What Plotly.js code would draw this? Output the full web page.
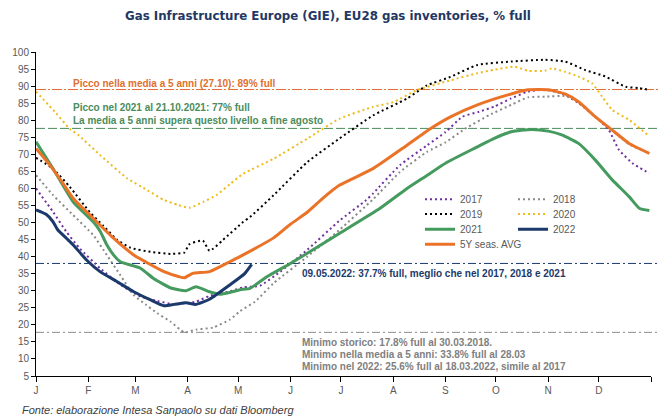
<!DOCTYPE html>
<html>
<head>
<meta charset="utf-8">
<script src="https://cdn.plot.ly/plotly-3.0.1.min.js"></script>
<style>html,body{margin:0;padding:0;background:#fff;}#chart{width:672px;height:416px;}</style>
</head>
<body>
<div id="chart"></div>
<script>
// Day of year (0 = 1 Jan) and % full
var monthTicks = [0,31,59,90,120,151,181,212,243,273,304,334,365];
var monthLabels = ['J','F','M','A','M','J','J','A','S','O','N','D',''];

var days2017 = [0,10,18,26,38,50,62,72,82,89,95,103,115,123,133,145,161,180,196,200,216,232,243,253,263,272,282,292,302,312,322,332,340,346,354,364];
var vals2017 = [60,53.2,47.3,42.4,36.6,31.8,28.3,27,26,26.4,26.8,28.5,29.8,31,31.5,35.6,42,50.5,56.6,58.5,66.8,72.6,76.5,81,82.5,84,86.4,88.4,88.9,87.9,85,81,77.1,71.3,67.4,64.4];

var days2018 = [0,10,22,34,42,50,58,65,72,80,88,95,105,115,121,130,141,161,180,200,216,232,243,255,269,282,292,302,314,320,332,342,352,364];
var vals2018 = [63.9,58.1,52.2,46.3,40.5,34.6,28.7,26,23.4,20.9,17.8,18.6,19.2,21.5,24,26.8,32.2,40,47.8,56.8,64.8,70.7,73.5,77.6,81.5,84.5,86.7,86.9,87.1,85.9,81,77,73,70.3];

var days2019 = [0,10,20,32,40,48,56,68,80,88,91,99,103,111,123,127,141,161,180,200,220,232,246,262,282,302,314,326,338,350,358,364];
var vals2019 = [69,65.8,60.5,53,49,45,42.6,41.4,40.8,41.2,43.6,44.7,41.7,44.9,50.2,51.6,58,67.7,74.6,81.4,86.3,90.2,92.7,96.2,97.2,97.7,97.2,94.7,92.8,89.8,89.4,88.9];

var days2020 = [0,12,20,25,38,54,66,76,84,91,99,107,115,123,141,161,180,200,212,226,246,262,272,284,292,302,306,314,322,330,336,342,352,363];
var vals2020 = [88.4,82,77.5,75.7,69.8,63,59.5,56.6,55.2,54.3,56,58,61.2,64.3,68.7,74.6,80.4,83.9,85.3,88.8,91.7,93.8,94.8,95.7,94.5,94.5,95.2,94.2,92.8,90.8,86.9,83,80.1,75.7];

var days2021 = [0,10,22,34,38,42,46,50,62,70,80,89,95,103,109,115,121,127,137,151,161,180,204,220,232,243,262,272,282,294,304,312,322,332,342,352,358,364];
var vals2021 = [73.7,65.9,56.1,50.2,47.5,43.5,40.5,38.5,36.6,33.5,30.8,30,31.2,29.7,29,29.5,30.3,30.7,34.1,38,41,46.8,54.1,59.9,63.8,67.4,72.2,74.7,76.6,77.3,76.8,75.7,73.2,68.3,62.5,57.6,54.2,53.5];

var days2022 = [0,6,10,13,18,22,30,38,48,58,68,76,82,89,95,103,115,124,128];
var vals2022 = [53.7,52.4,50.3,47.8,45.4,43.5,39,35.6,32.7,29.7,27.3,25.6,26,26.5,26,27.5,31.7,35.1,37.7];

var daysAvg = [0,8,16,22,34,46,58,76,85,88,93,103,115,121,141,151,161,170,180,200,220,234,246,262,282,292,299,304,314,322,332,342,352,364];
var valsAvg = [71.7,67,61.5,57.1,51.2,45.4,40.5,35.6,34.1,33.8,35.1,35.6,38.5,40,45.5,49.5,53,57,60.9,65.8,72.6,77.5,81,84.5,87.7,88.9,89,88.9,87.7,85.4,81,77.1,73.2,70.3];

// reference levels
var peakAvg = 89, peak2021 = 77.6, level2022 = 38, minHist = 17.8;

var FONT = 'Liberation Sans, Arial, sans-serif';

function tr(name, x, y, color, width, dash, legend) {
  return {type:'scatter', mode:'lines', name:name, x:x, y:y,
    line:{color:color, width:width, dash:dash, shape:'spline', smoothing:0.5},
    legend:legend, hoverinfo:'skip'};
}
var DOT = '2px,3px';
var traces = [
  tr('2017', days2017, vals2017, '#7030A0', 2, DOT, 'legend'),
  tr('2018', days2018, vals2018, '#8A8A8A', 2, DOT, 'legend2'),
  tr('2019', days2019, vals2019, '#000000', 2, DOT, 'legend3'),
  tr('2020', days2020, vals2020, '#EDBB1C', 2, DOT, 'legend4'),
  tr('2021', days2021, vals2021, '#459A5E', 3, 'solid', 'legend5'),
  tr('5Y seas. AVG', daysAvg, valsAvg, '#EB7328', 3, 'solid', 'legend7'),
  tr('2022', days2022, vals2022, '#1B3A6B', 3, 'solid', 'legend6')
];

function leg(x, y) {
  return {x:x, y:y, xanchor:'left', yanchor:'middle', bgcolor:'rgba(0,0,0,0)',
    font:{family:FONT, size:10, color:'#595959'}, itemclick:false, itemdoubleclick:false};
}
var c1 = 0.6244, c2 = 0.7756;

function hline(y, color, dash) {
  return {type:'line', xref:'paper', yref:'y', x0:0, x1:1.0146, y0:y, y1:y,
    line:{color:color, width:1, dash:dash}, layer:'below'};
}
function note(text, x, y, color) {
  return {text:text, xref:'paper', yref:'paper', x:x, y:y, xanchor:'left', yanchor:'middle',
    showarrow:false, align:'left', font:{family:FONT, size:10, color:color, weight:700}};
}

var layout = {
  width:672, height:416,
  margin:{l:36, r:21, t:52, b:40},
  paper_bgcolor:'#ffffff', plot_bgcolor:'#ffffff',
  title:{text:'Gas Infrastructure Europe (GIE), EU28 gas inventories, % full',
    xref:'container', yref:'container', x:0.488, y:0.9615, xanchor:'center', yanchor:'middle',
    font:{family:'DejaVu Sans, Verdana, sans-serif', size:11.8, color:'#1F3864', weight:700}},
  xaxis:{range:[0,365], tickvals:monthTicks, ticktext:monthLabels, ticks:'outside', ticklen:5,
    tickcolor:'#000', showline:true, linecolor:'#000', linewidth:1, showgrid:false, zeroline:false,
    tickfont:{family:FONT, size:10, color:'#595959'}, fixedrange:true},
  yaxis:{range:[5,100], tick0:5, dtick:5, ticks:'outside', ticklen:4, tickcolor:'#000',
    showline:true, linecolor:'#000', linewidth:1, showgrid:false, zeroline:false,
    tickfont:{family:FONT, size:10, color:'#595959'}, fixedrange:true},
  showlegend:true,
  legend:leg(c1, 0.5454), legend2:leg(c2, 0.5454),
  legend3:leg(c1, 0.5), legend4:leg(c2, 0.5),
  legend5:leg(c1, 0.4528), legend6:leg(c2, 0.4528),
  legend7:leg(c1, 0.4065),
  shapes:[
    hline(peakAvg, '#E07030', '10px,2px,2px,2px'),
    hline(peak2021, '#4A8C5C', '9px,3px'),
    hline(level2022, '#1B3A6B', '8px,3px,2px,3px'),
    hline(minHist, '#8C8C8C', '8px,3px,2px,3px')
  ],
  annotations:[
    note('Picco nella media a 5 anni (27.10): 89% full', 0.0574, 0.9034, '#E07030'),
    note('Picco nel 2021 al 21.10.2021: 77% full', 0.0574, 0.828, '#4A8C5C'),
    note('La media a 5 anni supera questo livello a fine agosto', 0.0574, 0.788, '#4A8C5C'),
    note('09.05.2022: 37.7% full, meglio che nel 2017, 2018 e 2021', 0.4288, 0.317, '#1B3A6B'),
    note('Minimo storico: 17.8% full al 30.03.2018.', 0.4288, 0.1028, '#808080'),
    note('Minimo nella media a 5 anni: 33.8% full al 28.03', 0.4288, 0.0657, '#808080'),
    note('Minimo nel 2022: 25.6% full al 18.03.2022, simile al 2017', 0.4288, 0.0278, '#808080'),
    {text:'Fonte: elaborazione Intesa Sanpaolo su dati Bloomberg', xref:'paper', yref:'paper',
      x:-0.026, y:-0.105, xanchor:'left', yanchor:'middle', showarrow:false,
      font:{family:FONT, size:11, color:'#404040', style:'italic'}}
  ]
};

Plotly.newPlot('chart', traces, layout, {staticPlot:true, displayModeBar:false});
</script>
</body>
</html>
